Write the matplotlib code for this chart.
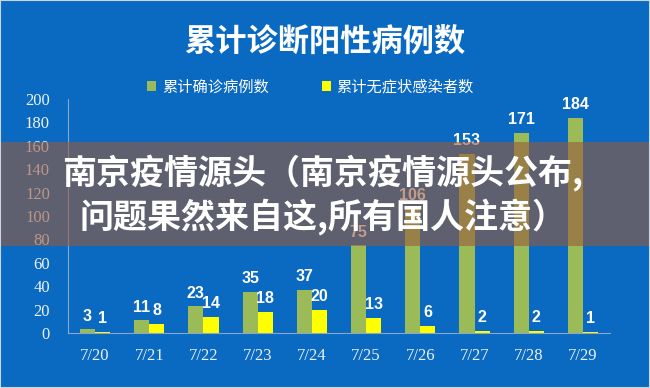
import matplotlib
matplotlib.use("Agg")
import matplotlib.pyplot as plt
import numpy as np
from matplotlib.patches import Rectangle

dates = ["7/20", "7/21", "7/22", "7/23", "7/24", "7/25", "7/26", "7/27", "7/28", "7/29"]
confirmed = [3, 11, 23, 35, 37, 75, 106, 153, 171, 184]
asymptomatic = [1, 8, 14, 18, 20, 13, 6, 2, 2, 1]
series_names = ["累计确诊病例数", "累计无症状感染者数"]

title = "累计诊断阳性病例数"
banner = "南京疫情源头（南京疫情源头公布,\n问题果然来自这,所有国人注意）"

BG = "#0a69c0"
GREEN = "#9bbb59"
YELLOW = "#ffff00"
CJK = ["Noto Sans CJK SC", "DejaVu Sans"]

fig = plt.figure(figsize=(6.5, 3.88), dpi=100)
fig.patch.set_facecolor(BG)
fig.patches.append(Rectangle((0, 0), 1, 1, transform=fig.transFigure, fill=False,
                             edgecolor="#c9d6e4", linewidth=1.5, zorder=20))

ax = fig.add_axes([0.1046, 0.1418, 0.8339, 0.6031])
ax.set_facecolor("none")
x = np.arange(len(dates))
w = 0.28
b1 = ax.bar(x - w / 2, confirmed, w, color=GREEN, label=series_names[0])
b2 = ax.bar(x + w / 2, asymptomatic, w, color=YELLOW, label=series_names[1])

for xi, v in zip(x, confirmed):
    ax.annotate(str(v), (xi - w / 2, v), xytext=(0, 4), textcoords="offset points",
                ha="center", va="bottom", color="white", fontsize=11.5,
                fontweight="bold", family="Liberation Sans")
for xi, v in zip(x, asymptomatic):
    ax.annotate(str(v), (xi + w / 2, v), xytext=(0, 4), textcoords="offset points",
                ha="center", va="bottom", color="white", fontsize=11.5,
                fontweight="bold", family="Liberation Sans")

ax.set_xlim(-0.5, len(dates) - 0.5)
ax.set_ylim(0, 200)
ax.set_yticks(np.arange(0, 201, 20))
ax.set_xticks(x)
ax.set_xticklabels(dates)
for s in ["top", "right"]:
    ax.spines[s].set_visible(False)
for s in ["left", "bottom"]:
    ax.spines[s].set_color("#8aa6c8")
    ax.spines[s].set_linewidth(0.8)
ax.tick_params(length=0, colors="#eef3f8", labelsize=12)
ax.tick_params(axis="y", pad=13)
ax.tick_params(axis="x", pad=11)
for lab in ax.get_xticklabels() + ax.get_yticklabels():
    lab.set_family("Liberation Serif")

ax.legend(handles=[b1, b2], ncol=2, loc="center", bbox_to_anchor=(0.478, 1 - 87 / 388),
          bbox_transform=fig.transFigure, frameon=False, handlelength=0.55,
          handleheight=0.55, handletextpad=0.4, columnspacing=3.5, labelcolor="white",
          prop={"family": CJK, "size": 11})

fig.text(0.5, 1 - 42 / 388, title, ha="center", va="center", color="white",
         fontsize=22.5, fontweight="heavy", family=CJK)

# semi-transparent banner over the middle of the chart
fig.patches.append(Rectangle((0, 1 - 246 / 388), 1, 104 / 388, transform=fig.transFigure,
                             facecolor="#985a3a", alpha=0.6, linewidth=0, zorder=10))
fig.text(0.497, 1 - 195 / 388, banner, ha="center", va="center", color="white",
         fontsize=24.5, fontweight="heavy", family=CJK, linespacing=1.2, zorder=11)

fig.savefig("out.png", dpi=100, facecolor=BG)
